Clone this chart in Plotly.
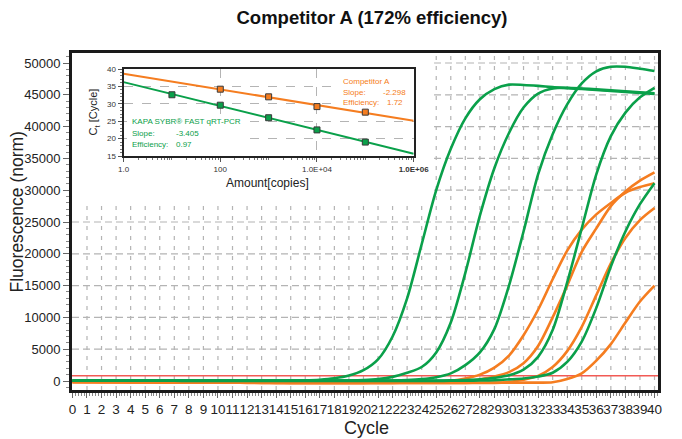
import numpy as np
import plotly.graph_objects as go

# ---------------- data ----------------
cycles = list(range(41))

# KAPA SYBR FAST (green) amplification curves, fluorescence per cycle
green_a = [80, 80, 78, 76, 74, 72, 70, 68, 66, 64,
           62, 60, 60, 62, 66, 75, 100, 200, 420, 850,
           1700, 3400, 7000, 13000, 21500, 30000, 36500, 41300, 44300, 45900,
           46600, 46550, 46400, 46200, 46050, 45900, 45750, 45600, 45450, 45300,
           45150]
green_b = [70, 70, 68, 66, 64, 62, 60, 58, 56, 54,
           52, 50, 50, 50, 50, 52, 55, 60, 70, 90,
           150, 300, 650, 1300, 2200, 4500, 9200, 17000, 26000, 33500,
           39000, 43000, 45200, 46000, 46100, 46000, 45850, 45700, 45550, 45400,
           45250]
green_c = [60, 60, 58, 56, 54, 52, 50, 48, 46, 44,
           42, 40, 40, 40, 40, 40, 40, 40, 42, 45,
           50, 60, 80, 150, 300, 600, 1200, 2500, 4500, 8200,
           15000, 23500, 32500, 38800, 43500, 46800, 48700, 49400, 49400, 49100,
           48750]
green_d = [50, 50, 48, 46, 44, 42, 40, 38, 36, 34,
           32, 30, 30, 30, 30, 30, 30, 30, 30, 30,
           32, 34, 36, 40, 50, 70, 100, 150, 250, 500,
           900, 1800, 3800, 8000, 15500, 24000, 32500, 38500, 42200, 44600,
           46100]
green_e = [40, 40, 38, 36, 34, 32, 30, 28, 26, 24,
           22, 20, 20, 20, 20, 20, 20, 20, 20, 20,
           20, 20, 20, 20, 22, 25, 30, 45, 70, 120,
           250, 400, 700, 1300, 3000, 6200, 11500, 18000, 23500, 27800,
           31100]

# Competitor A (orange) amplification curves
orange_a = [-150, -160, -170, -180, -190, -200, -210, -220, -230, -240,
            -250, -260, -270, -280, -290, -300, -300, -300, -300, -300,
            -290, -280, -260, -230, -190, -120, 50, 400, 1000, 2100,
            4000, 7200, 11200, 16000, 20500, 23800, 26200, 28000, 29600, 30500,
            31100]
orange_b = [-140, -150, -160, -170, -180, -190, -200, -210, -220, -230,
            -240, -250, -260, -270, -280, -290, -300, -300, -300, -300,
            -300, -300, -290, -280, -260, -230, -180, -50, 250, 700,
            1400, 2800, 5500, 10000, 15000, 20300, 24000, 27500, 29800, 31500,
            32800]
orange_c = [-160, -170, -180, -190, -200, -210, -220, -230, -240, -250,
            -260, -270, -280, -290, -300, -300, -300, -300, -300, -300,
            -300, -300, -300, -300, -300, -300, -300, -290, -270, -240,
            -150, 200, 800, 2200, 4700, 8500, 13500, 18500, 22500, 25300,
            27200]
orange_d = [-170, -180, -190, -200, -210, -220, -230, -240, -250, -260,
            -270, -280, -290, -300, -300, -300, -300, -300, -300, -300,
            -300, -300, -300, -300, -300, -300, -300, -300, -300, -290,
            -280, -260, -250, -200, 300, 1200, 3200, 5800, 9200, 12500,
            15000]

threshold = 830

# Standard curve (inset)
amount_green = [10, 100, 1000, 10000, 100000]
ct_green = [32.6, 29.6, 26.0, 22.5, 19.0]
amount_orange = [100, 1000, 10000, 100000]
ct_orange = [34.2, 32.0, 29.2, 27.6]
fit_amount = [1, 1e6]

x_ticks = list(range(41))
y_ticks = list(range(0, 50001, 5000))
inset_x_ticks = [1, 100, 1e4, 1e6]
inset_x_labels = ["1.0", "100", "1.0E+04", "<b>1.0E+06</b>"]
inset_y_ticks = [15, 20, 25, 30, 35, 40]

# ---------------- style ----------------
GREEN = "#0aa04a"
ORANGE = "#f57d20"
RED = "#f25a55"
GRID = "#b4b4b4"
SANS = "Liberation Sans, Arial, sans-serif"

# page offset of the plot div (browser body margin)
OFF = 8
FW, FH = 682 - OFF, 439 - OFF

XR = [-0.03, 40.24]
YR = [-1415, 51572]
# plot area in reference-image pixels
L, R, T, B = 72, 674, 53, 390
PW, PH = R - L, B - T


def px(x):
    return (x - L) / PW


def py(y):
    return (B - y) / PH


fig = go.Figure()

for ys in [orange_a, orange_b, orange_c, orange_d]:
    fig.add_trace(go.Scatter(x=cycles, y=ys, mode="lines",
                             line=dict(color=ORANGE, width=2.6, shape="spline", smoothing=0.8),
                             hoverinfo="skip", showlegend=False))
for ys in [green_a, green_b, green_c, green_d, green_e]:
    fig.add_trace(go.Scatter(x=cycles, y=ys, mode="lines",
                             line=dict(color=GREEN, width=2.6, shape="spline", smoothing=0.8),
                             hoverinfo="skip", showlegend=False))

# inset fits
lg = np.log10(amount_green)
lo = np.log10(amount_orange)
pg = np.polyfit(lg, ct_green, 1)
po = np.polyfit(lo, ct_orange, 1)
lf = np.log10(fit_amount)
fig.add_trace(go.Scatter(x=fit_amount, y=np.polyval(po, lf), mode="lines",
                         line=dict(color=ORANGE, width=2), xaxis="x2", yaxis="y2",
                         hoverinfo="skip", showlegend=False))
fig.add_trace(go.Scatter(x=fit_amount, y=np.polyval(pg, lf), mode="lines",
                         line=dict(color=GREEN, width=2), xaxis="x2", yaxis="y2",
                         hoverinfo="skip", showlegend=False))
fig.add_trace(go.Scatter(x=amount_orange, y=ct_orange, mode="markers",
                         marker=dict(symbol="square", size=6, color=ORANGE,
                                     line=dict(color="#3a3a3a", width=1)),
                         xaxis="x2", yaxis="y2", hoverinfo="skip", showlegend=False))
fig.add_trace(go.Scatter(x=amount_green, y=ct_green, mode="markers",
                         marker=dict(symbol="square", size=6, color=GREEN,
                                     line=dict(color="#3a3a3a", width=1)),
                         xaxis="x2", yaxis="y2", hoverinfo="skip", showlegend=False))

# ---------------- main grid (dashed, hidden behind the inset box) ----------------
shapes = []
box_cycle = 24.85
box_val = 28000
for c in x_ticks[1:]:
    top = box_val if c < box_cycle else YR[1]
    shapes.append(dict(type="line", xref="x", yref="y", x0=c, x1=c, y0=YR[0], y1=top,
                       line=dict(color=GRID, width=1.2, dash="4px,6px"), layer="below"))
for v in y_ticks[1:]:
    left = XR[0] if v < box_val else box_cycle
    shapes.append(dict(type="line", xref="x", yref="y", x0=left, x1=XR[1], y0=v, y1=v,
                       line=dict(color=GRID, width=1.2, dash="7px,4px"), layer="below"))
shapes.append(dict(type="line", xref="x", yref="y", x0=XR[0], x1=XR[1], y0=threshold, y1=threshold,
                   line=dict(color=RED, width=1.6), layer="below"))

# inset minor tick positions
minor_vals = [k * 10 ** n for n in range(6) for k in range(2, 10)] + [10, 1000, 1e5]


def label(text, x, y, color, size=8, anchor="left"):
    return dict(text=text, xref="paper", yref="paper", x=px(x), y=py(y),
                xanchor=anchor, yanchor="middle", showarrow=False,
                font=dict(family=SANS, size=size, color=color))


def whitebox(x0, y0, x1, y1):
    return dict(text=" ", xref="paper", yref="paper", x=px(x0), y=py(y0),
                xanchor="left", yanchor="top", showarrow=False, bgcolor="white",
                width=x1 - x0, height=y1 - y0, borderpad=0, borderwidth=0,
                font=dict(size=2))


annotations = [
    dict(text="Fluorescence (norm)", xref="paper", yref="paper", x=px(16), y=py(212),
         xanchor="center", yanchor="middle",
         textangle=-90, showarrow=False, font=dict(family=SANS, size=17.5, color="#222")),
    dict(text="Cycle", xref="paper", yref="paper", x=px(375), y=py(428),
         xanchor="center", yanchor="middle",
         showarrow=False, font=dict(family=SANS, size=18, color="#222")),
    dict(text="Amount[copies]", xref="paper", yref="paper", x=px(273), y=py(183),
         xanchor="center", yanchor="middle",
         showarrow=False, font=dict(family=SANS, size=12, color="#222")),
    dict(text="C<sub>t</sub> [Cycle]", xref="paper", yref="paper", x=px(95), y=py(112),
         xanchor="center", yanchor="middle",
         textangle=-90, showarrow=False, font=dict(family=SANS, size=11, color="#222")),
    whitebox(345, 75, 421, 107),
    label("Competitor A", 348, 81, ORANGE),
    label("Slope:", 348, 92, ORANGE),
    label("-2.298", 417, 92, ORANGE, anchor="right"),
    label("Efficiency:", 348, 102, ORANGE),
    label("1.72", 394, 102, ORANGE),
    whitebox(129, 116, 245, 150),
    label("KAPA SYBR\u00ae FAST qRT-PCR", 132, 122, GREEN),
    label("Slope:", 132, 133, GREEN),
    label("-3.405", 177, 133, GREEN),
    label("Efficiency:", 132, 144, GREEN),
    label("0.97", 177, 144, GREEN),
]

fig.update_layout(
    width=FW, height=FH,
    margin=dict(l=L - OFF, r=FW - (R - OFF), t=T - OFF, b=FH - (B - OFF)),
    paper_bgcolor="white", plot_bgcolor="white",
    title=dict(text="<b>Competitor A (172% efficiency)</b>", x=(372 - OFF) / FW, xref="container",
               xanchor="center", y=1 - (18 - OFF) / FH, yref="container", yanchor="middle",
               font=dict(family=SANS, size=18.5, color="#111")),
    xaxis=dict(domain=[0, 1], range=XR, tickmode="array", tickvals=x_ticks, tickangle=0,
               ticks="outside", ticklen=5, tickcolor="#666", tickwidth=1,
               minor=dict(dtick=0.2, ticks="outside", ticklen=3, tickcolor="#888"),
               showgrid=False, zeroline=False, showline=True, linewidth=3,
               linecolor="#1a1a1a", mirror=True,
               tickfont=dict(family=SANS, size=13.5, color="#222")),
    yaxis=dict(domain=[0, 1], range=YR, tickmode="array", tickvals=y_ticks,
               tickformat="d",
               ticks="outside", ticklen=6, tickcolor="#666", tickwidth=1,
               minor=dict(dtick=1000, ticks="outside", ticklen=3, tickcolor="#888"),
               showgrid=False, zeroline=False, showline=True, linewidth=3,
               linecolor="#1a1a1a", mirror=True,
               tickfont=dict(family=SANS, size=13, color="#222")),
    xaxis2=dict(domain=[px(125), px(423)], anchor="y2", type="log",
                range=[0, 6], tickmode="array", tickvals=inset_x_ticks, ticktext=inset_x_labels,
                tickangle=0,
                ticks="outside", ticklen=4, tickcolor="#555",
                minor=dict(tickvals=minor_vals, ticks="outside", ticklen=2, tickcolor="#777",
                           showgrid=False),
                showgrid=True, gridcolor=GRID, griddash="dash", gridwidth=1,
                zeroline=False, showline=True, linewidth=2, linecolor="#222", mirror=True,
                tickfont=dict(family=SANS, size=8, color="#333")),
    yaxis2=dict(domain=[py(156), py(69)], anchor="x2",
                range=[15, 40], tickmode="array", tickvals=inset_y_ticks,
                ticks="outside", ticklen=4, tickcolor="#555",
                minor=dict(dtick=1, ticks="outside", ticklen=2, tickcolor="#777", showgrid=False),
                showgrid=True, gridcolor=GRID, griddash="dash", gridwidth=1,
                zeroline=False, showline=True, linewidth=2, linecolor="#222", mirror=True,
                tickfont=dict(family=SANS, size=8, color="#333")),
    shapes=shapes,
    annotations=annotations,
)

fig.write_html("out.html")
